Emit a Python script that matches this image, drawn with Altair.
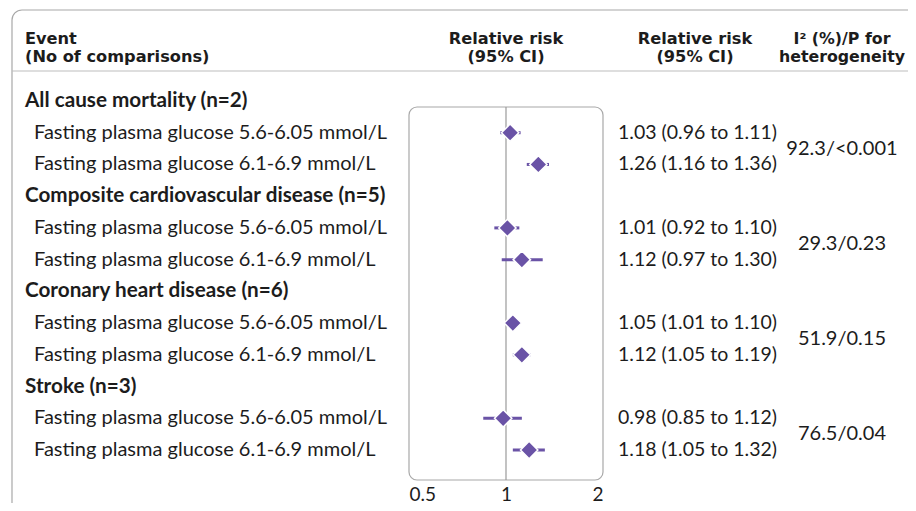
import altair as alt
import pandas as pd

# ---- data ----
groups = ["All cause mortality (n=2)", "Composite cardiovascular disease (n=5)",
          "Coronary heart disease (n=6)", "Stroke (n=3)"]
subgroups = ["Fasting plasma glucose 5.6-6.05 mmol/L", "Fasting plasma glucose 6.1-6.9 mmol/L"]
rr = [1.03, 1.26, 1.01, 1.12, 1.05, 1.12, 0.98, 1.18]
lo = [0.96, 1.16, 0.92, 0.97, 1.01, 1.05, 0.85, 1.05]
hi = [1.11, 1.36, 1.10, 1.30, 1.10, 1.19, 1.12, 1.32]
het = ["92.3/<0.001", "29.3/0.23", "51.9/0.15", "76.5/0.04"]
tick_values = [0.5, 1, 2]
header_event = ["Event", "(No of comparisons)"]
header_rr1 = ["Relative risk", "(95% CI)"]
header_rr2 = ["Relative risk", "(95% CI)"]
header_het = ["I² (%)/P for", "heterogeneity"]

# ---- tables ----
group_rows, sub_rows, est_rows, het_rows = [], [], [], []
k = 0
for g, name in enumerate(groups):
    group_rows.append({"row": 3 * g, "label": name})
    for s, sub in enumerate(subgroups):
        r = 3 * g + 1 + s
        sub_rows.append({"row": r, "label": sub})
        est_rows.append({"row": r, "rr": rr[k], "lo": lo[k], "hi": hi[k],
                         "txt": f"{rr[k]:.2f} ({lo[k]:.2f} to {hi[k]:.2f})"})
        k += 1
    het_rows.append({"row": 3 * g + 1.5, "txt": het[g]})

gdf = pd.DataFrame(group_rows)
sdf = pd.DataFrame(sub_rows)
edf = pd.DataFrame(est_rows)
hdf = pd.DataFrame(het_rows)
one = pd.DataFrame({"a": [0]})

PURPLE = "#6a53a6"
TXT = "#1c1c1c"
GRID = "#a8a8a8"
FONT = "Lato"
HFONT = "DejaVu Sans"
W, H = 900, 495

yscale = alt.Scale(domain=[0, 11], range=[93, 442])
xscale = alt.Scale(type="log", domain=[0.5, 2], range=[401, 595], nice=False)
Y = alt.Y("row:Q", scale=yscale, axis=None)

frame = alt.Chart(one).mark_rect(fillOpacity=0, stroke=GRID, strokeWidth=1.2, cornerRadius=10).encode(
    x=alt.value(4), x2=alt.value(1000), y=alt.value(2), y2=alt.value(800))
sep = alt.Chart(one).mark_rule(color="#bdbdbd", strokeWidth=1.2).encode(
    x=alt.value(4), x2=alt.value(1000), y=alt.value(63))

box = alt.Chart(one).mark_rect(fillOpacity=0, stroke=GRID, strokeWidth=1.2, cornerRadius=8).encode(
    x=alt.X(datum=0.5, type="quantitative", scale=xscale,
            axis=alt.Axis(values=tick_values, format="~g", title=None, domain=False, ticks=False,
                          grid=False, labelFont=FONT, labelFontSize=19, labelColor=TXT,
                          labelPadding=5, offset=-23, orient="bottom")),
    x2=alt.datum(2), y=alt.value(99), y2=alt.value(472))
ref = alt.Chart(one).mark_rule(color="#9a9a9a", strokeWidth=1.2).encode(
    x=alt.datum(1), y=alt.value(99), y2=alt.value(472))

ci = alt.Chart(edf).mark_rule(color=PURPLE, strokeWidth=3).encode(
    x=alt.X("lo:Q", scale=xscale), x2="hi:Q", y=Y)
pts = alt.Chart(edf).mark_point(shape="diamond", filled=True, size=300, fill=PURPLE,
                                 stroke="white", strokeWidth=1.5, opacity=1).encode(
    x=alt.X("rr:Q", scale=xscale), y=Y)

def rowtext(df, field, xpos, size, **kw):
    return alt.Chart(df).mark_text(font=FONT, fontSize=size, color=TXT, baseline="middle", **kw).encode(
        x=alt.value(xpos), y=Y, text=f"{field}:N")

glab = rowtext(gdf, "label", 17, 20.7, align="left", fontWeight="bold")
slab = rowtext(sdf, "label", 26, 20, align="left")
rrtx = rowtext(edf, "txt", 610, 19.5, align="left")
hetx = rowtext(hdf, "txt", 834, 20, align="center")

def header(lines, xpos, align, size=16.2):
    return alt.Chart(one).mark_text(font=HFONT, fontSize=size, fontWeight="bold", color=TXT,
                                     align=align, baseline="middle", lineHeight=18).encode(
        x=alt.value(xpos), y=alt.value(31), text=alt.value(lines))

h1 = header(header_event, 17, "left")
h2 = header(header_rr1, 498, "center")
h3 = header(header_rr2, 687, "center")
h4 = header(header_het, 834, "center", size=15.8)

chart = alt.layer(frame, sep, box, ref, ci, pts, glab, slab, rrtx, hetx, h1, h2, h3, h4).properties(
    width=W, height=H, autosize=alt.AutoSizeParams(type="none"), padding=0
).configure_view(strokeWidth=0)

chart.save("out.html", embed_options={"renderer": "svg", "actions": False})
